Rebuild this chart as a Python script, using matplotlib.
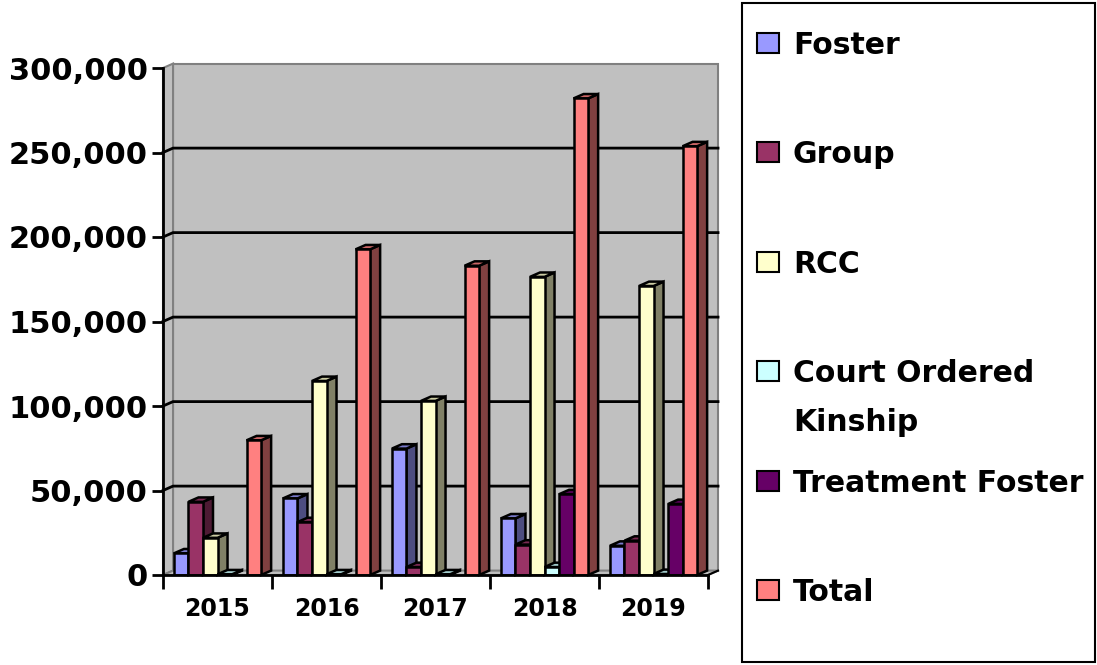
import matplotlib.pyplot as plt
from matplotlib.patches import Polygon, Rectangle
from matplotlib.colors import to_rgb
from matplotlib.ticker import FuncFormatter
import numpy as np

years = ['2015', '2016', '2017', '2018', '2019']
series = ['Foster', 'Group', 'RCC', 'Court Ordered\nKinship', 'Treatment Foster', 'Total']
foster = [12800, 45300, 74800, 33500, 17300]
group = [43300, 31300, 4700, 18000, 20300]
rcc = [22000, 114800, 103000, 176400, 171000]
court = [400, 400, 400, 4700, 600]
treatment = [0, 0, 0, 47800, 42000]
total = [79700, 192700, 183000, 282000, 253700]
colors = ['#9999FF', '#993366', '#FFFFCC', '#CCFFFF', '#660066', '#FF8080']

values = [foster, group, rcc, court, treatment, total]


def shade(c, f):
    r, g, b = to_rgb(c)
    return (r * f, g * f, b * f)


W, H = 1097, 665
fig = plt.figure(figsize=(W / 100, H / 100), dpi=100)
ax = fig.add_axes([163 / W, 90 / H, 545 / W, 507 / H])

ymax = 300000
x0, x1 = -0.5, len(years) - 0.5
dx, dy = 0.092, 2600  # depth offset of the fake 3D
ax.set_xlim(x0, x1)
ax.set_ylim(0, ymax)
ax.patch.set_visible(False)

# walls and floor
wall = dict(facecolor='#C0C0C0', edgecolor='#808080', lw=1.5, clip_on=False, zorder=0)
ax.add_patch(Polygon([(x0 + dx, dy), (x1 + dx, dy), (x1 + dx, ymax + dy), (x0 + dx, ymax + dy)], **wall))
ax.add_patch(Polygon([(x0, 0), (x0 + dx, dy), (x0 + dx, ymax + dy), (x0, ymax)], **wall))
ax.add_patch(Polygon([(x0, 0), (x1, 0), (x1 + dx, dy), (x0 + dx, dy)], **wall))

yticks = np.arange(0, ymax + 1, 50000)
for t in yticks[1:-1]:
    ax.plot([x0, x0 + dx, x1 + dx], [t, t + dy, t + dy], color='black', lw=2,
            clip_on=False, zorder=0.5)
ax.plot([x1, x1 + dx], [0, dy], color='black', lw=1.5, clip_on=False, zorder=0.5)

# bars: front from ax.bar, side and top faces added behind each front
n = len(values)
w = 0.8 / n
x = np.arange(len(years))
for i, vals in enumerate(values):
    bars = ax.bar(x - 0.4 + i * w, vals, w, align='edge', color=colors[i],
                  edgecolor='black', lw=1.8)
    for j, b in enumerate(bars):
        v = vals[j]
        z = 2 + (j * n + i) * 0.1
        b.set_zorder(z + 0.05)
        if v == 0:
            b.set_visible(False)
            continue
        left = b.get_x()
        right = left + w
        ax.add_patch(Polygon([(right, 0), (right + dx, dy), (right + dx, v + dy), (right, v)],
                             fc=shade(colors[i], 0.5), ec='black', lw=1.8, zorder=z, clip_on=False))
        ax.add_patch(Polygon([(left, v), (right, v), (right + dx, v + dy), (left + dx, v + dy)],
                             fc=shade(colors[i], 0.8), ec='black', lw=1.8, zorder=z, clip_on=False))

# axes
for s in ['top', 'right']:
    ax.spines[s].set_visible(False)
for s in ['left', 'bottom']:
    ax.spines[s].set_linewidth(2)
    ax.spines[s].set_zorder(10)

ax.set_yticks(yticks)
ax.yaxis.set_major_formatter(FuncFormatter(lambda v, p: f'{int(v):,}'))
ax.tick_params(axis='y', length=8, width=2, pad=3, labelsize=22)
ax.set_xticks(x)
ax.set_xticklabels(years)
ax.set_xticks(np.arange(len(years) + 1) - 0.5, minor=True)
ax.tick_params(axis='x', which='major', length=0, pad=16, labelsize=17)
ax.tick_params(axis='x', which='minor', length=10, width=2)
for lab in ax.get_xticklabels() + ax.get_yticklabels():
    lab.set_fontweight('bold')

# legend box
fig.patches.append(Rectangle((742 / W, 3 / H), 353 / W, 659 / H, transform=fig.transFigure,
                             fill=False, ec='black', lw=1.5))
for i, (name, c) in enumerate(zip(series, colors)):
    yc = 1 - (43 + i * 109.4) / H
    fig.patches.append(Rectangle((757 / W, yc - 10 / H), 22 / W, 20 / H, transform=fig.transFigure,
                                 fc=c, ec='black', lw=1.5))
    for k, line in enumerate(name.split('\n')):
        fig.text(793 / W, yc - (11 + k * 49) / H, line, fontsize=21.5, fontweight='bold',
                 va='baseline', ha='left')

fig.savefig('out.png', dpi=100)
